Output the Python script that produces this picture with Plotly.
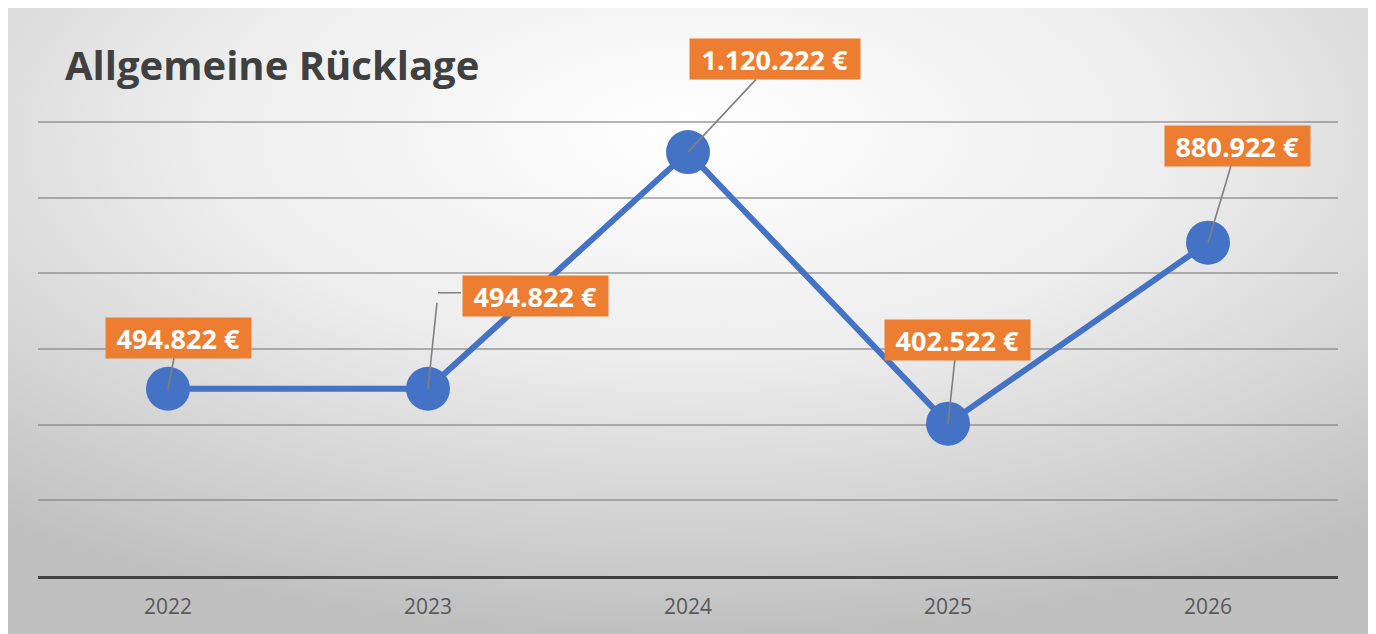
import base64
import plotly.graph_objects as go

# Chart data
years = ["2022", "2023", "2024", "2025", "2026"]
values = [494822, 494822, 1120222, 402522, 880922]
labels = ["494.822 €", "494.822 €", "1.120.222 €", "402.522 €", "880.922 €"]

# label box offsets from the point (pixels)
label_dx = [10, 107, 87, 9, 29]
label_dy = [-51, -93, -93, -84, -97]

W, H = 1360, 626
ml, mr, mt, mb = 30, 30, 95, 58

# Radial gray background, as an svg image
svg = (
    '<svg xmlns="http://www.w3.org/2000/svg" width="1360" height="626" '
    'viewBox="0 0 1360 626" preserveAspectRatio="none">'
    '<defs><radialGradient id="g" cx="0.5" cy="0.2" r="0.8">'
    '<stop offset="0" stop-color="#ffffff"/>'
    '<stop offset="0.45" stop-color="#ededed"/>'
    '<stop offset="1" stop-color="#c0c0c0"/>'
    '</radialGradient></defs>'
    '<rect width="1360" height="626" fill="url(#g)"/></svg>'
)
bg_src = "data:image/svg+xml;base64," + base64.b64encode(svg.encode()).decode()

fig = go.Figure()
fig.add_trace(go.Scatter(
    x=years, y=values, mode="lines+markers",
    line=dict(color="#4472C4", width=6),
    marker=dict(size=44, color="#4472C4"),
    cliponaxis=False, hoverinfo="skip",
))

leader = dict(arrowhead=0, arrowwidth=1.6, arrowcolor="#7f7f7f", standoff=0)
pad = 2

# category axis: annotations use the category index
for i, (v, txt) in enumerate(zip(values, labels)):
    elbow = i == 1
    fig.add_annotation(
        xref="x", yref="y", x=i, y=v, text="<b>" + txt + "</b>",
        showarrow=not elbow, ax=label_dx[i], ay=label_dy[i],
        xshift=label_dx[i] if elbow else 0, yshift=-label_dy[i] if elbow else 0,
        width=12.5 * len(txt) + 32 - 2 * pad, height=40 - 2 * pad,
        bgcolor="#ED7D31", borderpad=pad,
        font=dict(family="Open Sans", size=27, color="white"),
        **leader,
    )

# elbow leader for the 2023 label: up, then across to the box
fig.add_annotation(xref="x", yref="y", x=1, y=values[1], text=" ",
                   showarrow=True, ax=10, ay=-96, **leader)
fig.add_annotation(xref="x", yref="y", x=1, y=values[1], text=" ",
                   showarrow=True, xshift=10, yshift=96, ax=26, ay=0, **leader)

fig.add_layout_image(
    source=bg_src, xref="paper", yref="paper",
    x=-ml / (W - ml - mr), y=(H - mb) / (H - mt - mb),
    sizex=W / (W - ml - mr), sizey=H / (H - mt - mb),
    xanchor="left", yanchor="top", sizing="stretch", layer="below",
)

fig.update_layout(
    width=W, height=H,
    margin=dict(l=ml, r=mr, t=mt, b=mb),
    paper_bgcolor="#d8d8d8", plot_bgcolor="rgba(0,0,0,0)",
    showlegend=False,
    title=dict(text="<b>Allgemeine Rücklage</b>", x=57 / W, xanchor="left",
               y=1 - 58 / H, yanchor="middle",
               font=dict(family="Open Sans", size=40, color="#404040")),
    xaxis=dict(type="category", range=[-0.5, 4.5], showgrid=False,
               showline=True, linecolor="#404040", linewidth=3,
               ticks="", ticklabelstandoff=10,
               tickfont=dict(family="Open Sans", size=21, color="#595959")),
    yaxis=dict(range=[0, 1250000], tickvals=[200000, 400000, 600000, 800000, 1000000, 1200000],
               showticklabels=False,
               gridcolor="rgba(120,120,120,0.55)", gridwidth=1.5,
               zeroline=False, showline=False),
)

fig.write_html("out.html")
